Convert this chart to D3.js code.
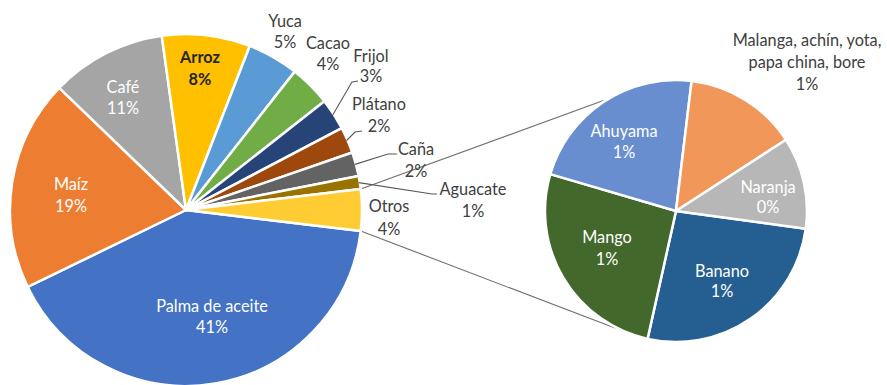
<!DOCTYPE html>
<html>
<head>
<meta charset="utf-8">
<script src="https://cdn.jsdelivr.net/npm/d3@7"></script>
<style>
  html, body { margin: 0; padding: 0; background: #fff; }
  svg { display: block; }
  text { font-family: Lato, "Open Sans", sans-serif; font-size: 16.3px; }
</style>
</head>
<body>
<svg id="chart" width="887" height="385"></svg>
<script>
// ---- data ----
const categories = ["Palma de aceite", "Maíz", "Café", "Arroz", "Yuca", "Cacao", "Frijol", "Plátano", "Caña", "Aguacate"];
const values = [40.9, 19.4, 10.6, 8.1, 4.7, 3.8, 2.9, 2.4, 2.2, 1.2];
const otherName = "Otros";
const subCategories = ["Banano", "Mango", "Ahuyama", "Malanga, achín, yota, papa china, bore", "Naranja"];
const subValues = [1.0, 0.99, 0.85, 0.53, 0.43];

// ---- styles / layout ----
const mainColors = ["#4472C4", "#ED7D31", "#A5A5A5", "#FFC000", "#5B9BD5", "#70AD47", "#264478", "#9E480E", "#636363", "#997300", "#FFCD33"];
const subColors = ["#255E91", "#43682B", "#698ED0", "#F1975A", "#B7B7B7"];

const mainC = { x: 186, y: 210, r: 176 };
const subC = { x: 676, y: 211, r: 131 };
const subStartDeg = 97.8;
const connectorDeg = [327, 207.5];

// label positions: [x, baseline of each line]
const labelLayout = {
  "Palma de aceite": { x: 212, ys: [312, 333], fill: "#fff" },
  "Maíz": { x: 71, ys: [190, 212], fill: "#fff" },
  "Café": { x: 123, ys: [93, 114], fill: "#fff" },
  "Arroz": { x: 200, ys: [63, 85], fill: "#262626", weight: "bold" },
  "Yuca": { x: 285, ys: [27, 48] },
  "Cacao": { x: 328, ys: [49, 70] },
  "Frijol": { x: 371, ys: [62, 82], leader: [[352, 82], [358, 81]] },
  "Plátano": { x: 379, ys: [110, 132], leader: [[355, 132], [362, 131]] },
  "Caña": { x: 416, ys: [155, 177], leader: [[388, 154], [397, 154]] },
  "Aguacate": { x: 473, ys: [195, 217], leader: [[432, 194], [437, 194]] },
  "Otros": { x: 389, ys: [212, 235] },
  "Banano": { x: 722, ys: [277, 297], fill: "#fff" },
  "Mango": { x: 607, ys: [243, 265], fill: "#fff" },
  "Ahuyama": { x: 624, ys: [137, 158], fill: "#fff" },
  "Malanga, achín, yota, papa china, bore": { x: 807, ys: [46, 68, 90], lines: ["Malanga, achín, yota,", "papa china, bore"] },
  "Naranja": { x: 768, ys: [193, 213], fill: "#fff" }
};

const rad = d => d * Math.PI / 180;
const svg = d3.select("#chart");

const otherSum = d3.sum(subValues);
const mainNames = categories.concat([otherName]);
const mainVals = values.concat([otherSum]);
const total = d3.sum(mainVals);

const mainStart = Math.PI / 2 + (otherSum / total) * Math.PI;
const mainPie = d3.pie().sort(null).value(d => d.v)
  .startAngle(mainStart).endAngle(mainStart + 2 * Math.PI);
const mainArcs = mainPie(mainNames.map((n, i) => ({ n, v: mainVals[i], c: mainColors[i] })));
const arcMain = d3.arc().innerRadius(0).outerRadius(mainC.r);

const subPie = d3.pie().sort(null).value(d => d.v)
  .startAngle(rad(subStartDeg)).endAngle(rad(subStartDeg) + 2 * Math.PI);
const subArcs = subPie(subCategories.map((n, i) => ({ n, v: subValues[i], c: subColors[i] })));
const arcSub = d3.arc().innerRadius(0).outerRadius(subC.r);

const polar = (c, r, a) => [c.x + r * Math.sin(a), c.y - r * Math.cos(a)];

// connector lines
const otherArc = mainArcs[mainArcs.length - 1];
const conn = [
  [polar(mainC, mainC.r, otherArc.startAngle), polar(subC, subC.r + 1, rad(connectorDeg[0]))],
  [polar(mainC, mainC.r, otherArc.endAngle), polar(subC, subC.r + 1, rad(connectorDeg[1]))]
];
svg.append("g").selectAll("line").data(conn).join("line")
  .attr("x1", d => d[0][0]).attr("y1", d => d[0][1])
  .attr("x2", d => d[1][0]).attr("y2", d => d[1][1])
  .attr("stroke", "#6e6e6e").attr("stroke-width", 1.1);

// main pie
svg.append("g").attr("transform", `translate(${mainC.x},${mainC.y})`)
  .selectAll("path").data(mainArcs).join("path")
  .attr("d", arcMain).attr("fill", d => d.data.c)
  .attr("stroke", "#fff").attr("stroke-width", 2.5).attr("stroke-linejoin", "round");

// secondary pie
svg.append("g").attr("transform", `translate(${subC.x},${subC.y})`)
  .selectAll("path").data(subArcs).join("path")
  .attr("d", arcSub).attr("fill", d => d.data.c)
  .attr("stroke", "#fff").attr("stroke-width", 2.5).attr("stroke-linejoin", "round");

// leader lines
mainArcs.forEach(a => {
  const L = labelLayout[a.data.n];
  if (!L || !L.leader) return;
  const mid = (a.startAngle + a.endAngle) / 2;
  const pts = [polar(mainC, mainC.r - 1, mid)].concat(L.leader);
  svg.append("path").attr("d", d3.line()(pts))
    .attr("fill", "none").attr("stroke", "#595959").attr("stroke-width", 1.1);
});

// labels
const pct = v => Math.round(v / total * 100) + "%";
function drawLabel(name, v) {
  const L = labelLayout[name];
  if (!L) return;
  const lines = (L.lines || [name]).concat([pct(v)]);
  const t = svg.append("text").attr("text-anchor", "middle")
    .attr("fill", L.fill || "#404040")
    .attr("font-weight", L.weight || "normal");
  lines.forEach((s, i) => {
    t.append("tspan").attr("x", L.x).attr("y", L.ys[i]).text(s);
  });
}
mainArcs.forEach(a => drawLabel(a.data.n, a.data.v));
subArcs.forEach(a => drawLabel(a.data.n, a.data.v));
</script>
</body>
</html>
